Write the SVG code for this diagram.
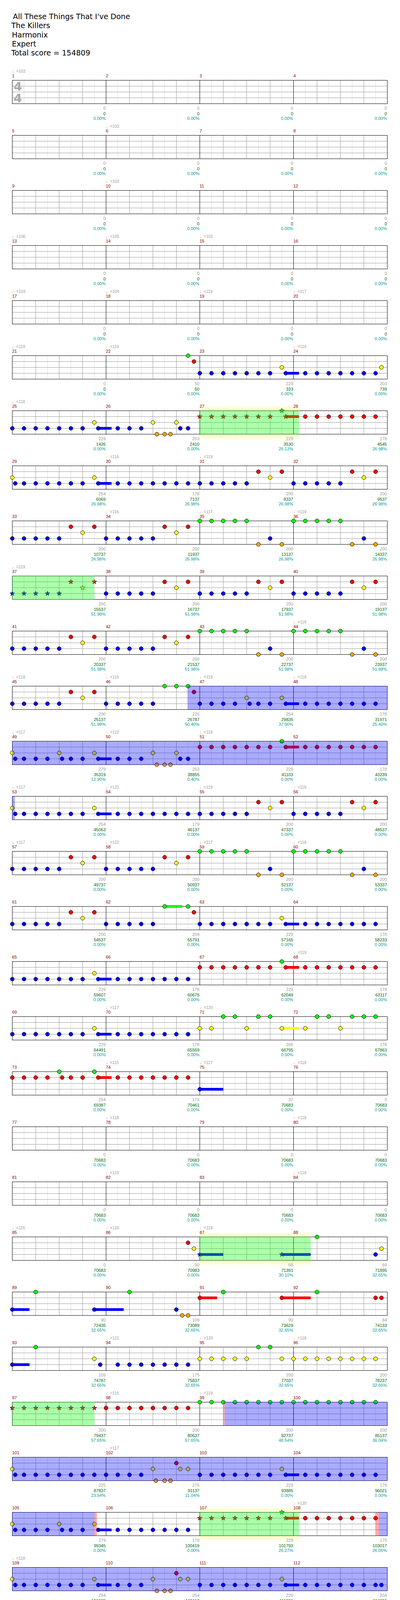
<svg xmlns="http://www.w3.org/2000/svg" xmlns:xlink="http://www.w3.org/1999/xlink" width="1024" height="5422" viewBox="0 0 1024 5422">
<style>
text{font-family:"Liberation Sans",Arial,sans-serif;font-size:11px}
.h{font-family:"DejaVu Sans",Verdana,sans-serif;font-size:19px;fill:#000}
.ts{font-family:"DejaVu Sans",sans-serif;font-weight:bold;font-size:31px;fill:#aaa}
.mn{fill:#8b0000}
.tp{fill:#999;font-size:10.5px}
.s1{fill:#999;text-anchor:end}
.s2{fill:#006400;text-anchor:end}
.s3{fill:#009b9b;text-anchor:end}
.G{fill:#0f0}.R{fill:#f00}.Y{fill:#ff0}.B{fill:#00f}.O{fill:#ffa500}
circle{stroke:#000;stroke-width:1}
.ga{fill:#0f0;fill-opacity:.33}
.ba{fill:#00f;fill-opacity:.33}
.ra{fill:#f00;fill-opacity:.33}
.yb{fill:#ffffd0}
</style>
<defs>
<path id="st" d="M0,-6.5L1.53,-2.1L6.18,-2.01L2.47,0.8L3.82,5.26L0,2.6L-3.82,5.26L-2.47,0.8L-6.18,-2.01L-1.53,-2.1Z" stroke="#000" stroke-width="0.8"/>
<g id="staff">
<rect x="31.5" y="0" width="960" height="60" fill="#fff"/>
<path d="M61.5 0V60M121.5 0V60M181.5 0V60M241.5 0V60M301.5 0V60M361.5 0V60M421.5 0V60M481.5 0V60M541.5 0V60M601.5 0V60M661.5 0V60M721.5 0V60M781.5 0V60M841.5 0V60M901.5 0V60M961.5 0V60" stroke="#ddd"/>
<path d="M91.5 0V60M151.5 0V60M211.5 0V60M331.5 0V60M391.5 0V60M451.5 0V60M571.5 0V60M631.5 0V60M691.5 0V60M811.5 0V60M871.5 0V60M931.5 0V60M31.5 15H991.5M31.5 30H991.5M31.5 45H991.5" stroke="#999"/>
<path d="M271.5 0V60M511.5 0V60M751.5 0V60" stroke="#000"/>
<rect x="31.5" y="0" width="960" height="60" fill="none" stroke="#000"/>
</g>
<g id="pA"><rect class="B" x="220" y="41.5" width="34" height="7"/><circle class="B" cx="0" cy="45" r="5"/><circle class="B" cx="30" cy="45" r="5"/><circle class="B" cx="60" cy="45" r="5"/><circle class="B" cx="90" cy="45" r="5"/><circle class="B" cx="120" cy="45" r="5"/><circle class="B" cx="150" cy="45" r="5"/><circle class="B" cx="180" cy="45" r="5"/><circle class="Y" cx="210" cy="30" r="5"/><circle class="B" cx="220" cy="45" r="5"/></g>
<g id="pA2"><rect class="B" x="220" y="41.5" width="34" height="7"/><circle class="Y" cx="0" cy="30" r="5"/><circle class="B" cx="7.5" cy="45" r="5"/><circle class="B" cx="30" cy="45" r="5"/><circle class="B" cx="60" cy="45" r="5"/><circle class="B" cx="90" cy="45" r="5"/><circle class="B" cx="120" cy="45" r="5"/><circle class="B" cx="150" cy="45" r="5"/><circle class="B" cx="180" cy="45" r="5"/><circle class="Y" cx="210" cy="30" r="5"/><circle class="B" cx="220" cy="45" r="5"/></g>
<g id="pA3"><rect class="B" x="220" y="41.5" width="34" height="7"/><circle class="Y" cx="0" cy="30" r="5"/><circle class="B" cx="7.5" cy="45" r="5"/><circle class="B" cx="30" cy="45" r="5"/><circle class="B" cx="60" cy="45" r="5"/><circle class="B" cx="90" cy="45" r="5"/><circle class="Y" cx="120" cy="30" r="5"/><circle class="B" cx="127.5" cy="45" r="5"/><circle class="B" cx="150" cy="45" r="5"/><circle class="B" cx="180" cy="45" r="5"/><circle class="Y" cx="210" cy="30" r="5"/><circle class="B" cx="220" cy="45" r="5"/></g>
<g id="pH"><rect class="B" x="220" y="41.5" width="34" height="7"/><circle class="B" cx="0" cy="45" r="5"/><circle class="B" cx="30" cy="45" r="5"/><circle class="B" cx="60" cy="45" r="5"/><circle class="B" cx="90" cy="45" r="5"/><circle class="Y" cx="120" cy="30" r="5"/><circle class="B" cx="127.5" cy="45" r="5"/><circle class="B" cx="150" cy="45" r="5"/><circle class="B" cx="180" cy="45" r="5"/><circle class="Y" cx="210" cy="30" r="5"/><circle class="B" cx="220" cy="45" r="5"/></g>
<g id="pB"><circle class="B" cx="30" cy="45" r="5"/><circle class="B" cx="60" cy="45" r="5"/><circle class="B" cx="90" cy="45" r="5"/><circle class="B" cx="120" cy="45" r="5"/><circle class="B" cx="150" cy="45" r="5"/><circle class="B" cx="180" cy="45" r="5"/><circle class="B" cx="210" cy="45" r="5"/></g>
<g id="pC"><circle class="B" cx="0" cy="45" r="5"/><circle class="B" cx="30" cy="45" r="5"/><circle class="B" cx="60" cy="45" r="5"/><circle class="B" cx="90" cy="45" r="5"/><circle class="B" cx="120" cy="45" r="5"/><circle class="R" cx="150" cy="15" r="5"/><circle class="Y" cx="180" cy="30" r="5"/><circle class="R" cx="210" cy="15" r="5"/></g>
<g id="pD"><circle class="G" cx="0" cy="0" r="5"/><circle class="G" cx="30" cy="0" r="5"/><circle class="G" cx="60" cy="0" r="5"/><circle class="G" cx="90" cy="0" r="5"/><circle class="G" cx="120" cy="0" r="5"/><circle class="O" cx="150" cy="60" r="5"/><circle class="B" cx="180" cy="45" r="5"/><circle class="O" cx="210" cy="60" r="5"/></g>
<g id="pE"><circle class="B" cx="30" cy="45" r="5"/><circle class="B" cx="60" cy="45" r="5"/><circle class="B" cx="90" cy="45" r="5"/><circle class="Y" cx="120" cy="30" r="5"/><circle class="O" cx="130" cy="60" r="5"/><circle class="O" cx="150" cy="60" r="5"/><circle class="O" cx="165" cy="60" r="5"/><circle class="Y" cx="180" cy="30" r="5"/><circle class="B" cx="190" cy="45" r="5"/><circle class="B" cx="210" cy="45" r="5"/></g>
<g id="pF"><rect class="R" x="220" y="11.5" width="34" height="7"/><circle class="R" cx="0" cy="15" r="5"/><circle class="R" cx="30" cy="15" r="5"/><circle class="R" cx="60" cy="15" r="5"/><circle class="R" cx="90" cy="15" r="5"/><circle class="R" cx="120" cy="15" r="5"/><circle class="R" cx="150" cy="15" r="5"/><circle class="R" cx="180" cy="15" r="5"/><circle class="G" cx="210" cy="0" r="5"/><circle class="R" cx="220" cy="15" r="5"/></g>
<g id="pG"><circle class="R" cx="30" cy="15" r="5"/><circle class="R" cx="60" cy="15" r="5"/><circle class="R" cx="90" cy="15" r="5"/><circle class="R" cx="120" cy="15" r="5"/><circle class="R" cx="150" cy="15" r="5"/><circle class="R" cx="180" cy="15" r="5"/><circle class="R" cx="210" cy="15" r="5"/></g>
<g id="pR8"><circle class="R" cx="0" cy="15" r="5"/><use href="#pG"/></g>
<g id="pY8"><circle class="Y" cx="0" cy="30" r="5"/><circle class="Y" cx="30" cy="30" r="5"/><circle class="Y" cx="60" cy="30" r="5"/><circle class="Y" cx="90" cy="30" r="5"/><circle class="Y" cx="120" cy="30" r="5"/><circle class="Y" cx="150" cy="30" r="5"/><circle class="Y" cx="180" cy="30" r="5"/><circle class="Y" cx="210" cy="30" r="5"/></g>
<g id="pG8"><circle class="G" cx="0" cy="0" r="5"/><circle class="G" cx="30" cy="0" r="5"/><circle class="G" cx="60" cy="0" r="5"/><circle class="G" cx="90" cy="0" r="5"/><circle class="G" cx="120" cy="0" r="5"/><circle class="G" cx="150" cy="0" r="5"/><circle class="G" cx="180" cy="0" r="5"/><circle class="G" cx="210" cy="0" r="5"/></g>
<g id="pM71"><rect class="Y" x="210" y="26.5" width="44" height="7"/><circle class="Y" cx="0" cy="30" r="5"/><circle class="Y" cx="30" cy="30" r="5"/><circle class="G" cx="60" cy="0" r="5"/><circle class="G" cx="90" cy="0" r="5"/><circle class="Y" cx="120" cy="30" r="5"/><circle class="G" cx="150" cy="0" r="5"/><circle class="G" cx="180" cy="0" r="5"/><circle class="Y" cx="210" cy="30" r="5"/></g>
<g id="pM72"><circle class="Y" cx="30" cy="30" r="5"/><circle class="G" cx="60" cy="0" r="5"/><circle class="G" cx="90" cy="0" r="5"/><circle class="Y" cx="120" cy="30" r="5"/><circle class="G" cx="150" cy="0" r="5"/><circle class="G" cx="180" cy="0" r="5"/><circle class="G" cx="210" cy="0" r="5"/></g>
<g id="pFs"><rect class="R" x="220" y="11.5" width="34" height="7"/><use href="#st" class="R" x="0" y="15"/><use href="#st" class="R" x="30" y="15"/><use href="#st" class="R" x="60" y="15"/><use href="#st" class="R" x="90" y="15"/><use href="#st" class="R" x="120" y="15"/><use href="#st" class="R" x="150" y="15"/><use href="#st" class="R" x="180" y="15"/><use href="#st" class="G" x="210" y="0"/><use href="#st" class="R" x="220" y="15"/></g>
</defs>

<g id="header">
<text class="h" x="33" y="49">All These Things That I've Done</text>
<text class="h" x="29" y="72">The Killers</text>
<text class="h" x="30.5" y="95.5">Harmonix</text>
<text class="h" x="30.5" y="118.5">Expert</text>
<text class="h" x="29" y="141.5">Total score = 154809</text>
</g>

<g id="r1" transform="translate(0,205.5)">
<use href="#staff"/>
<text class="ts" x="35" y="26.5">4</text><text class="ts" x="35" y="56.5">4</text>
<text class="tp" y="-20"><tspan x="31">♩=103</tspan></text>
<text class="mn" y="-8"><tspan x="31">1</tspan><tspan x="271">2</tspan><tspan x="511">3</tspan><tspan x="751">4</tspan></text>
<text class="s1" y="75.5"><tspan x="270.5">0</tspan><tspan x="510.5">0</tspan><tspan x="750.5">0</tspan><tspan x="990.5">0</tspan></text>
<text class="s2" y="89"><tspan x="270.5">0</tspan><tspan x="510.5">0</tspan><tspan x="750.5">0</tspan><tspan x="990.5">0</tspan></text>
<text class="s3" y="101.5"><tspan x="270.5">0.00%</tspan><tspan x="510.5">0.00%</tspan><tspan x="750.5">0.00%</tspan><tspan x="990.5">0.00%</tspan></text>
</g>

<g id="r2" transform="translate(0,346.5)">
<use href="#staff"/>
<text class="tp" y="-20"><tspan x="271">♩=103</tspan></text>
<text class="mn" y="-8"><tspan x="31">5</tspan><tspan x="271">6</tspan><tspan x="511">7</tspan><tspan x="751">8</tspan></text>
<text class="s1" y="75.5"><tspan x="270.5">0</tspan><tspan x="510.5">0</tspan><tspan x="750.5">0</tspan><tspan x="990.5">0</tspan></text>
<text class="s2" y="89"><tspan x="270.5">0</tspan><tspan x="510.5">0</tspan><tspan x="750.5">0</tspan><tspan x="990.5">0</tspan></text>
<text class="s3" y="101.5"><tspan x="270.5">0.00%</tspan><tspan x="510.5">0.00%</tspan><tspan x="750.5">0.00%</tspan><tspan x="990.5">0.00%</tspan></text>
</g>

<g id="r3" transform="translate(0,487.5)">
<use href="#staff"/>
<text class="tp" y="-20"><tspan x="271">♩=102</tspan></text>
<text class="mn" y="-8"><tspan x="31">9</tspan><tspan x="271">10</tspan><tspan x="511">11</tspan><tspan x="751">12</tspan></text>
<text class="s1" y="75.5"><tspan x="270.5">0</tspan><tspan x="510.5">0</tspan><tspan x="750.5">0</tspan><tspan x="990.5">0</tspan></text>
<text class="s2" y="89"><tspan x="270.5">0</tspan><tspan x="510.5">0</tspan><tspan x="750.5">0</tspan><tspan x="990.5">0</tspan></text>
<text class="s3" y="101.5"><tspan x="270.5">0.00%</tspan><tspan x="510.5">0.00%</tspan><tspan x="750.5">0.00%</tspan><tspan x="990.5">0.00%</tspan></text>
</g>

<g id="r4" transform="translate(0,628.5)">
<use href="#staff"/>
<text class="tp" y="-20"><tspan x="31">♩=106</tspan><tspan x="271">♩=105</tspan><tspan x="511">♩=102</tspan></text>
<text class="mn" y="-8"><tspan x="31">13</tspan><tspan x="271">14</tspan><tspan x="511">15</tspan><tspan x="751">16</tspan></text>
<text class="s1" y="75.5"><tspan x="270.5">0</tspan><tspan x="510.5">0</tspan><tspan x="750.5">0</tspan><tspan x="990.5">0</tspan></text>
<text class="s2" y="89"><tspan x="270.5">0</tspan><tspan x="510.5">0</tspan><tspan x="750.5">0</tspan><tspan x="990.5">0</tspan></text>
<text class="s3" y="101.5"><tspan x="270.5">0.00%</tspan><tspan x="510.5">0.00%</tspan><tspan x="750.5">0.00%</tspan><tspan x="990.5">0.00%</tspan></text>
</g>

<g id="r5" transform="translate(0,769.5)">
<use href="#staff"/>
<text class="tp" y="-20"><tspan x="31">♩=103</tspan><tspan x="271">♩=104</tspan><tspan x="511">♩=119</tspan><tspan x="751">♩=117</tspan></text>
<text class="mn" y="-8"><tspan x="31">17</tspan><tspan x="271">18</tspan><tspan x="511">19</tspan><tspan x="751">20</tspan></text>
<text class="s1" y="75.5"><tspan x="270.5">0</tspan><tspan x="510.5">0</tspan><tspan x="750.5">0</tspan><tspan x="990.5">0</tspan></text>
<text class="s2" y="89"><tspan x="270.5">0</tspan><tspan x="510.5">0</tspan><tspan x="750.5">0</tspan><tspan x="990.5">0</tspan></text>
<text class="s3" y="101.5"><tspan x="270.5">0.00%</tspan><tspan x="510.5">0.00%</tspan><tspan x="750.5">0.00%</tspan><tspan x="990.5">0.00%</tspan></text>
</g>

<g id="r6" transform="translate(0,910.5)">
<use href="#staff"/>
<circle class="G" cx="481.5" cy="0" r="5"/><circle class="R" cx="496.5" cy="15" r="5"/>
<use href="#pA" x="511.5"/>
<use href="#pB" x="751.5"/><circle class="Y" cx="976.5" cy="30" r="5"/>
<text class="tp" y="-20"><tspan x="31">♩=119</tspan><tspan x="271">♩=119</tspan><tspan x="751">♩=119</tspan></text>
<text class="mn" y="-8"><tspan x="31">21</tspan><tspan x="271">22</tspan><tspan x="511">23</tspan><tspan x="751">24</tspan></text>
<text class="s1" y="75.5"><tspan x="270.5">0</tspan><tspan x="510.5">50</tspan><tspan x="750.5">229</tspan><tspan x="990.5">203</tspan></text>
<text class="s2" y="89"><tspan x="270.5">0</tspan><tspan x="510.5">50</tspan><tspan x="750.5">333</tspan><tspan x="990.5">739</tspan></text>
<text class="s3" y="101.5"><tspan x="270.5">0.00%</tspan><tspan x="510.5">0.00%</tspan><tspan x="750.5">0.00%</tspan><tspan x="990.5">0.00%</tspan></text>
</g>

<g id="r7" transform="translate(0,1051.5)">
<rect class="yb" x="511.5" y="-10.5" width="254.5" height="81.5"/>
<use href="#staff"/>
<use href="#pA" x="31.5"/><use href="#pE" x="271.5"/><use href="#pFs" x="511.5"/><use href="#pG" x="751.5"/>
<rect class="ga" x="511.5" y="-0.5" width="254.5" height="61"/>
<text class="tp" y="-20"><tspan x="31">♩=118</tspan></text>
<text class="mn" y="-8"><tspan x="31">25</tspan><tspan x="271">26</tspan><tspan x="511">27</tspan><tspan x="751">28</tspan></text>
<text class="s1" y="75.5"><tspan x="270.5">229</tspan><tspan x="510.5">253</tspan><tspan x="750.5">229</tspan><tspan x="990.5">178</tspan></text>
<text class="s2" y="89"><tspan x="270.5">1426</tspan><tspan x="510.5">2410</tspan><tspan x="750.5">3530</tspan><tspan x="990.5">4545</tspan></text>
<text class="s3" y="101.5"><tspan x="270.5">0.00%</tspan><tspan x="510.5">0.00%</tspan><tspan x="750.5">26.13%</tspan><tspan x="990.5">26.98%</tspan></text>
</g>

<g id="r8" transform="translate(0,1192.5)">
<use href="#staff"/>
<use href="#pA2" x="31.5"/><use href="#pB" x="271.5"/><use href="#pC" x="511.5"/><use href="#pC" x="751.5"/>
<text class="tp" y="-20"><tspan x="271">♩=116</tspan><tspan x="511">♩=119</tspan></text>
<text class="mn" y="-8"><tspan x="31">29</tspan><tspan x="271">30</tspan><tspan x="511">31</tspan><tspan x="751">32</tspan></text>
<text class="s1" y="75.5"><tspan x="270.5">254</tspan><tspan x="510.5">178</tspan><tspan x="750.5">200</tspan><tspan x="990.5">200</tspan></text>
<text class="s2" y="89"><tspan x="270.5">6069</tspan><tspan x="510.5">7137</tspan><tspan x="750.5">8337</tspan><tspan x="990.5">9537</tspan></text>
<text class="s3" y="101.5"><tspan x="270.5">26.98%</tspan><tspan x="510.5">26.98%</tspan><tspan x="750.5">26.98%</tspan><tspan x="990.5">26.98%</tspan></text>
</g>

<g id="r9" transform="translate(0,1333.5)">
<use href="#staff"/>
<use href="#pC" x="31.5"/><use href="#pC" x="271.5"/><use href="#pD" x="511.5"/><use href="#pD" x="751.5"/>
<text class="tp" y="-20"><tspan x="271">♩=116</tspan><tspan x="511">♩=117</tspan><tspan x="751">♩=119</tspan></text>
<text class="mn" y="-8"><tspan x="31">33</tspan><tspan x="271">34</tspan><tspan x="511">35</tspan><tspan x="751">36</tspan></text>
<text class="s1" y="75.5"><tspan x="270.5">200</tspan><tspan x="510.5">200</tspan><tspan x="750.5">200</tspan><tspan x="990.5">200</tspan></text>
<text class="s2" y="89"><tspan x="270.5">10737</tspan><tspan x="510.5">11937</tspan><tspan x="750.5">13137</tspan><tspan x="990.5">14337</tspan></text>
<text class="s3" y="101.5"><tspan x="270.5">26.98%</tspan><tspan x="510.5">26.98%</tspan><tspan x="750.5">26.98%</tspan><tspan x="990.5">26.98%</tspan></text>
</g>

<g id="r10" transform="translate(0,1474.5)">
<use href="#staff"/>
<g transform="translate(31.5,0)"><use href="#st" class="B" x="0" y="45"/><use href="#st" class="B" x="30" y="45"/><use href="#st" class="B" x="60" y="45"/><use href="#st" class="B" x="90" y="45"/><use href="#st" class="B" x="120" y="45"/><use href="#st" class="R" x="150" y="15"/><use href="#st" class="Y" x="180" y="30"/><use href="#st" class="R" x="210" y="15"/></g>
<use href="#pC" x="271.5"/><use href="#pC" x="511.5"/><use href="#pC" x="751.5"/>
<rect class="ga" x="31.5" y="-0.5" width="210" height="61"/>
<text class="tp" y="-20"><tspan x="31">♩=119</tspan></text>
<text class="mn" y="-8"><tspan x="31">37</tspan><tspan x="271">38</tspan><tspan x="511">39</tspan><tspan x="751">40</tspan></text>
<text class="s1" y="75.5"><tspan x="270.5">200</tspan><tspan x="510.5">200</tspan><tspan x="750.5">200</tspan><tspan x="990.5">200</tspan></text>
<text class="s2" y="89"><tspan x="270.5">15537</tspan><tspan x="510.5">16737</tspan><tspan x="750.5">17937</tspan><tspan x="990.5">19137</tspan></text>
<text class="s3" y="101.5"><tspan x="270.5">51.98%</tspan><tspan x="510.5">51.98%</tspan><tspan x="750.5">51.98%</tspan><tspan x="990.5">51.98%</tspan></text>
</g>

<g id="r11" transform="translate(0,1615.5)">
<use href="#staff"/>
<use href="#pC" x="31.5"/><use href="#pC" x="271.5"/><use href="#pD" x="511.5"/><use href="#pD" x="751.5"/>
<text class="tp" y="-20"><tspan x="751">♩=116</tspan></text>
<text class="mn" y="-8"><tspan x="31">41</tspan><tspan x="271">42</tspan><tspan x="511">43</tspan><tspan x="751">44</tspan></text>
<text class="s1" y="75.5"><tspan x="270.5">200</tspan><tspan x="510.5">200</tspan><tspan x="750.5">200</tspan><tspan x="990.5">200</tspan></text>
<text class="s2" y="89"><tspan x="270.5">20337</tspan><tspan x="510.5">21537</tspan><tspan x="750.5">22737</tspan><tspan x="990.5">23937</tspan></text>
<text class="s3" y="101.5"><tspan x="270.5">51.98%</tspan><tspan x="510.5">51.98%</tspan><tspan x="750.5">51.98%</tspan><tspan x="990.5">51.98%</tspan></text>
</g>

<g id="r12" transform="translate(0,1756.5)">
<use href="#staff"/>
<use href="#pC" x="31.5"/>
<circle class="B" cx="271.5" cy="45" r="5"/><circle class="B" cx="301.5" cy="45" r="5"/><circle class="B" cx="331.5" cy="45" r="5"/><circle class="B" cx="361.5" cy="45" r="5"/><circle class="B" cx="391.5" cy="45" r="5"/><circle class="G" cx="421.5" cy="0" r="5"/><circle class="G" cx="451.5" cy="0" r="5"/><circle class="G" cx="481.5" cy="0" r="5"/><circle class="R" cx="496.5" cy="15" r="5"/>
<use href="#pH" x="511.5"/><use href="#pB" x="751.5"/>
<rect class="ba" x="480" y="-0.5" width="511.5" height="61"/>
<text class="tp" y="-20"><tspan x="31">♩=119</tspan><tspan x="271">♩=115</tspan><tspan x="511">♩=119</tspan><tspan x="751">♩=118</tspan></text>
<text class="mn" y="-8"><tspan x="31">45</tspan><tspan x="271">46</tspan><tspan x="511">47</tspan><tspan x="751">48</tspan></text>
<text class="s1" y="75.5"><tspan x="270.5">200</tspan><tspan x="510.5">225</tspan><tspan x="750.5">254</tspan><tspan x="990.5">178</tspan></text>
<text class="s2" y="89"><tspan x="270.5">25137</tspan><tspan x="510.5">26787</tspan><tspan x="750.5">29835</tspan><tspan x="990.5">31971</tspan></text>
<text class="s3" y="101.5"><tspan x="270.5">51.98%</tspan><tspan x="510.5">50.40%</tspan><tspan x="750.5">37.90%</tspan><tspan x="990.5">25.40%</tspan></text>
</g>

<g id="r13" transform="translate(0,1897.5)">
<use href="#staff"/>
<use href="#pA3" x="31.5"/><use href="#pE" x="271.5"/><use href="#pF" x="511.5"/><use href="#pG" x="751.5"/>
<rect class="ba" x="31.5" y="-0.5" width="960" height="61"/>
<text class="tp" y="-20"><tspan x="31">♩=117</tspan><tspan x="271">♩=122</tspan><tspan x="511">♩=118</tspan></text>
<text class="mn" y="-8"><tspan x="31">49</tspan><tspan x="271">50</tspan><tspan x="511">51</tspan><tspan x="751">52</tspan></text>
<text class="s1" y="75.5"><tspan x="270.5">279</tspan><tspan x="510.5">253</tspan><tspan x="750.5">229</tspan><tspan x="990.5">178</tspan></text>
<text class="s2" y="89"><tspan x="270.5">35319</tspan><tspan x="510.5">38855</tspan><tspan x="750.5">41103</tspan><tspan x="990.5">43239</tspan></text>
<text class="s3" y="101.5"><tspan x="270.5">12.90%</tspan><tspan x="510.5">0.40%</tspan><tspan x="750.5">0.00%</tspan><tspan x="990.5">0.00%</tspan></text>
</g>

<g id="r14" transform="translate(0,2038.5)">
<use href="#staff"/>
<use href="#pA2" x="31.5"/><use href="#pB" x="271.5"/><use href="#pC" x="511.5"/><use href="#pC" x="751.5"/>
<rect class="ba" x="31.5" y="-0.5" width="6.5" height="61"/>
<text class="tp" y="-20"><tspan x="31">♩=117</tspan><tspan x="271">♩=121</tspan><tspan x="511">♩=119</tspan><tspan x="751">♩=115</tspan></text>
<text class="mn" y="-8"><tspan x="31">53</tspan><tspan x="271">54</tspan><tspan x="511">55</tspan><tspan x="751">56</tspan></text>
<text class="s1" y="75.5"><tspan x="270.5">254</tspan><tspan x="510.5">179</tspan><tspan x="750.5">200</tspan><tspan x="990.5">200</tspan></text>
<text class="s2" y="89"><tspan x="270.5">45063</tspan><tspan x="510.5">46137</tspan><tspan x="750.5">47337</tspan><tspan x="990.5">48537</tspan></text>
<text class="s3" y="101.5"><tspan x="270.5">0.00%</tspan><tspan x="510.5">0.00%</tspan><tspan x="750.5">0.00%</tspan><tspan x="990.5">0.00%</tspan></text>
</g>

<g id="r15" transform="translate(0,2179.5)">
<use href="#staff"/>
<use href="#pC" x="31.5"/><use href="#pC" x="271.5"/><use href="#pD" x="511.5"/><use href="#pD" x="751.5"/>
<text class="tp" y="-20"><tspan x="31">♩=117</tspan><tspan x="271">♩=122</tspan><tspan x="511">♩=117</tspan><tspan x="751">♩=118</tspan></text>
<text class="mn" y="-8"><tspan x="31">57</tspan><tspan x="271">58</tspan><tspan x="511">59</tspan><tspan x="751">60</tspan></text>
<text class="s1" y="75.5"><tspan x="270.5">200</tspan><tspan x="510.5">200</tspan><tspan x="750.5">200</tspan><tspan x="990.5">200</tspan></text>
<text class="s2" y="89"><tspan x="270.5">49737</tspan><tspan x="510.5">50937</tspan><tspan x="750.5">52137</tspan><tspan x="990.5">53337</tspan></text>
<text class="s3" y="101.5"><tspan x="270.5">0.00%</tspan><tspan x="510.5">0.00%</tspan><tspan x="750.5">0.00%</tspan><tspan x="990.5">0.00%</tspan></text>
</g>

<g id="r16" transform="translate(0,2320.5)">
<use href="#staff"/>
<use href="#pC" x="31.5"/>
<rect class="G" x="421.5" y="-3.5" width="45" height="7"/>
<circle class="B" cx="271.5" cy="45" r="5"/><circle class="B" cx="301.5" cy="45" r="5"/><circle class="B" cx="331.5" cy="45" r="5"/><circle class="B" cx="361.5" cy="45" r="5"/><circle class="B" cx="391.5" cy="45" r="5"/><circle class="G" cx="421.5" cy="0" r="5"/><circle class="G" cx="481.5" cy="0" r="5"/><circle class="R" cx="496.5" cy="15" r="5"/>
<use href="#pA" x="511.5"/><use href="#pB" x="751.5"/>
<text class="mn" y="-8"><tspan x="31">61</tspan><tspan x="271">62</tspan><tspan x="511">63</tspan><tspan x="751">64</tspan></text>
<text class="s1" y="75.5"><tspan x="270.5">200</tspan><tspan x="510.5">209</tspan><tspan x="750.5">229</tspan><tspan x="990.5">178</tspan></text>
<text class="s2" y="89"><tspan x="270.5">54537</tspan><tspan x="510.5">55791</tspan><tspan x="750.5">57165</tspan><tspan x="990.5">58233</tspan></text>
<text class="s3" y="101.5"><tspan x="270.5">0.00%</tspan><tspan x="510.5">0.00%</tspan><tspan x="750.5">0.00%</tspan><tspan x="990.5">0.00%</tspan></text>
</g>

<g id="r17" transform="translate(0,2461.5)">
<use href="#staff"/>
<use href="#pA" x="31.5"/><use href="#pB" x="271.5"/><use href="#pF" x="511.5"/><use href="#pG" x="751.5"/>
<text class="tp" y="-20"><tspan x="751">♩=119</tspan></text>
<text class="mn" y="-8"><tspan x="31">65</tspan><tspan x="271">66</tspan><tspan x="511">67</tspan><tspan x="751">68</tspan></text>
<text class="s1" y="75.5"><tspan x="270.5">229</tspan><tspan x="510.5">178</tspan><tspan x="750.5">229</tspan><tspan x="990.5">178</tspan></text>
<text class="s2" y="89"><tspan x="270.5">59607</tspan><tspan x="510.5">60675</tspan><tspan x="750.5">62049</tspan><tspan x="990.5">63117</tspan></text>
<text class="s3" y="101.5"><tspan x="270.5">0.00%</tspan><tspan x="510.5">0.00%</tspan><tspan x="750.5">0.00%</tspan><tspan x="990.5">0.00%</tspan></text>
</g>

<g id="r18" transform="translate(0,2602.5)">
<use href="#staff"/>
<use href="#pA" x="31.5"/><use href="#pB" x="271.5"/><use href="#pM71" x="511.5"/><use href="#pM72" x="751.5"/>
<text class="tp" y="-20"><tspan x="271">♩=117</tspan><tspan x="511">♩=120</tspan></text>
<text class="mn" y="-8"><tspan x="31">69</tspan><tspan x="271">70</tspan><tspan x="511">71</tspan><tspan x="751">72</tspan></text>
<text class="s1" y="75.5"><tspan x="270.5">229</tspan><tspan x="510.5">178</tspan><tspan x="750.5">206</tspan><tspan x="990.5">178</tspan></text>
<text class="s2" y="89"><tspan x="270.5">64491</tspan><tspan x="510.5">65559</tspan><tspan x="750.5">66795</tspan><tspan x="990.5">67863</tspan></text>
<text class="s3" y="101.5"><tspan x="270.5">0.00%</tspan><tspan x="510.5">0.00%</tspan><tspan x="750.5">0.00%</tspan><tspan x="990.5">0.00%</tspan></text>
</g>

<g id="r19" transform="translate(0,2743.5)">
<use href="#staff"/>
<rect class="R" x="251.5" y="11.5" width="34" height="7"/>
<circle class="R" cx="31.5" cy="15" r="5"/><circle class="R" cx="61.5" cy="15" r="5"/><circle class="R" cx="91.5" cy="15" r="5"/><circle class="R" cx="121.5" cy="15" r="5"/><circle class="G" cx="151.5" cy="0" r="5"/><circle class="R" cx="159" cy="15" r="5"/><circle class="R" cx="181.5" cy="15" r="5"/><circle class="R" cx="211.5" cy="15" r="5"/><circle class="G" cx="241.5" cy="0" r="5"/><circle class="R" cx="251.5" cy="15" r="5"/>
<use href="#pG" x="271.5"/>
<rect class="B" x="511.5" y="41.5" width="60" height="7"/><circle class="B" cx="511.5" cy="45" r="5"/>
<text class="tp" y="-20"><tspan x="271">♩=115</tspan><tspan x="511">♩=117</tspan><tspan x="751">♩=118</tspan></text>
<text class="mn" y="-8"><tspan x="31">73</tspan><tspan x="271">74</tspan><tspan x="511">75</tspan><tspan x="751">76</tspan></text>
<text class="s1" y="75.5"><tspan x="270.5">254</tspan><tspan x="510.5">179</tspan><tspan x="750.5">37</tspan><tspan x="990.5">0</tspan></text>
<text class="s2" y="89"><tspan x="270.5">69387</tspan><tspan x="510.5">70461</tspan><tspan x="750.5">70683</tspan><tspan x="990.5">70683</tspan></text>
<text class="s3" y="101.5"><tspan x="270.5">0.00%</tspan><tspan x="510.5">0.00%</tspan><tspan x="750.5">0.00%</tspan><tspan x="990.5">0.00%</tspan></text>
</g>

<g id="r20" transform="translate(0,2884.5)">
<use href="#staff"/>
<text class="tp" y="-20"><tspan x="271">♩=118</tspan><tspan x="751">♩=118</tspan></text>
<text class="mn" y="-8"><tspan x="31">77</tspan><tspan x="271">78</tspan><tspan x="511">79</tspan><tspan x="751">80</tspan></text>
<text class="s1" y="75.5"><tspan x="270.5">0</tspan><tspan x="510.5">0</tspan><tspan x="750.5">0</tspan><tspan x="990.5">0</tspan></text>
<text class="s2" y="89"><tspan x="270.5">70683</tspan><tspan x="510.5">70683</tspan><tspan x="750.5">70683</tspan><tspan x="990.5">70683</tspan></text>
<text class="s3" y="101.5"><tspan x="270.5">0.00%</tspan><tspan x="510.5">0.00%</tspan><tspan x="750.5">0.00%</tspan><tspan x="990.5">0.00%</tspan></text>
</g>

<g id="r21" transform="translate(0,3025.5)">
<use href="#staff"/>
<text class="tp" y="-20"><tspan x="271">♩=119</tspan><tspan x="751">♩=119</tspan></text>
<text class="mn" y="-8"><tspan x="31">81</tspan><tspan x="271">82</tspan><tspan x="511">83</tspan><tspan x="751">84</tspan></text>
<text class="s1" y="75.5"><tspan x="270.5">0</tspan><tspan x="510.5">0</tspan><tspan x="750.5">0</tspan><tspan x="990.5">0</tspan></text>
<text class="s2" y="89"><tspan x="270.5">70683</tspan><tspan x="510.5">70683</tspan><tspan x="750.5">70683</tspan><tspan x="990.5">70683</tspan></text>
<text class="s3" y="101.5"><tspan x="270.5">0.00%</tspan><tspan x="510.5">0.00%</tspan><tspan x="750.5">0.00%</tspan><tspan x="990.5">0.00%</tspan></text>
</g>

<g id="r22" transform="translate(0,3166.5)">
<rect class="yb" x="511.5" y="-10.5" width="284" height="81.5"/>
<use href="#staff"/>
<circle class="R" cx="481.5" cy="15" r="5"/><circle class="Y" cx="496.5" cy="30" r="5"/>
<rect class="B" x="511.5" y="41.5" width="60" height="7"/><rect class="B" x="721.5" y="41.5" width="74" height="7"/>
<use href="#st" class="B" x="511.5" y="45"/><use href="#st" class="B" x="721.5" y="45"/>
<rect class="ga" x="511.5" y="-0.5" width="284" height="61"/>
<circle class="G" cx="811.5" cy="0" r="5"/><circle class="B" cx="961.5" cy="45" r="5"/><circle class="Y" cx="976.5" cy="30" r="5"/>
<text class="tp" y="-20"><tspan x="31">♩=116</tspan><tspan x="271">♩=120</tspan><tspan x="511">♩=118</tspan></text>
<text class="mn" y="-8"><tspan x="31">85</tspan><tspan x="271">86</tspan><tspan x="511">87</tspan><tspan x="751">88</tspan></text>
<text class="s1" y="75.5"><tspan x="270.5">0</tspan><tspan x="510.5">50</tspan><tspan x="750.5">68</tspan><tspan x="990.5">84</tspan></text>
<text class="s2" y="89"><tspan x="270.5">70683</tspan><tspan x="510.5">70983</tspan><tspan x="750.5">71391</tspan><tspan x="990.5">71895</tspan></text>
<text class="s3" y="101.5"><tspan x="270.5">0.00%</tspan><tspan x="510.5">0.00%</tspan><tspan x="750.5">30.10%</tspan><tspan x="990.5">32.65%</tspan></text>
</g>

<g id="r23" transform="translate(0,3307.5)">
<use href="#staff"/>
<rect class="B" x="31.5" y="41.5" width="44" height="7"/><rect class="B" x="241.5" y="41.5" width="75" height="7"/>
<rect class="R" x="511.5" y="11.5" width="44" height="7"/><rect class="R" x="721.5" y="11.5" width="74" height="7"/>
<circle class="B" cx="31.5" cy="45" r="5"/><circle class="G" cx="91.5" cy="0" r="5"/><circle class="B" cx="241.5" cy="45" r="5"/>
<circle class="G" cx="331.5" cy="0" r="5"/><circle class="B" cx="451.5" cy="45" r="5"/><circle class="O" cx="466.5" cy="60" r="5"/><circle class="O" cx="481.5" cy="60" r="5"/>
<circle class="R" cx="511.5" cy="15" r="5"/><circle class="G" cx="571.5" cy="0" r="5"/><circle class="R" cx="721.5" cy="15" r="5"/>
<circle class="G" cx="811.5" cy="0" r="5"/><circle class="R" cx="961.5" cy="15" r="5"/><circle class="R" cx="976.5" cy="15" r="5"/>
<text class="mn" y="-8"><tspan x="31">89</tspan><tspan x="271">90</tspan><tspan x="511">91</tspan><tspan x="751">92</tspan></text>
<text class="s1" y="75.5"><tspan x="270.5">90</tspan><tspan x="510.5">109</tspan><tspan x="750.5">90</tspan><tspan x="990.5">84</tspan></text>
<text class="s2" y="89"><tspan x="270.5">72435</tspan><tspan x="510.5">73089</tspan><tspan x="750.5">73629</tspan><tspan x="990.5">74133</tspan></text>
<text class="s3" y="101.5"><tspan x="270.5">32.65%</tspan><tspan x="510.5">32.65%</tspan><tspan x="750.5">32.65%</tspan><tspan x="990.5">32.65%</tspan></text>
</g>

<g id="r24" transform="translate(0,3448.5)">
<use href="#staff"/>
<rect class="B" x="31.5" y="41.5" width="44" height="7"/>
<circle class="B" cx="31.5" cy="45" r="5"/><circle class="G" cx="91.5" cy="0" r="5"/><circle class="Y" cx="241.5" cy="30" r="5"/><circle class="B" cx="256.5" cy="45" r="5"/>
<use href="#pB" x="271.5"/>
<circle class="Y" cx="511.5" cy="30" r="5"/><circle class="Y" cx="541.5" cy="30" r="5"/><circle class="Y" cx="571.5" cy="30" r="5"/><circle class="Y" cx="601.5" cy="30" r="5"/><circle class="Y" cx="631.5" cy="30" r="5"/><circle class="G" cx="661.5" cy="0" r="5"/><circle class="G" cx="691.5" cy="0" r="5"/><circle class="Y" cx="721.5" cy="30" r="5"/>
<use href="#pY8" x="751.5"/>
<text class="tp" y="-20"><tspan x="271">♩=121</tspan><tspan x="511">♩=120</tspan><tspan x="751">♩=118</tspan></text>
<text class="mn" y="-8"><tspan x="31">93</tspan><tspan x="271">94</tspan><tspan x="511">95</tspan><tspan x="751">96</tspan></text>
<text class="s1" y="75.5"><tspan x="270.5">109</tspan><tspan x="510.5">175</tspan><tspan x="750.5">200</tspan><tspan x="990.5">200</tspan></text>
<text class="s2" y="89"><tspan x="270.5">74787</tspan><tspan x="510.5">75837</tspan><tspan x="750.5">77037</tspan><tspan x="990.5">78237</tspan></text>
<text class="s3" y="101.5"><tspan x="270.5">32.65%</tspan><tspan x="510.5">32.65%</tspan><tspan x="750.5">32.65%</tspan><tspan x="990.5">32.65%</tspan></text>
</g>

<g id="r25" transform="translate(0,3589.5)">
<use href="#staff"/>
<g transform="translate(31.5,0)"><use href="#st" class="R" x="0" y="15"/><use href="#st" class="R" x="30" y="15"/><use href="#st" class="R" x="60" y="15"/><use href="#st" class="R" x="90" y="15"/><use href="#st" class="R" x="120" y="15"/><use href="#st" class="R" x="150" y="15"/><use href="#st" class="R" x="180" y="15"/><use href="#st" class="R" x="210" y="15"/></g>
<use href="#pR8" x="271.5"/><use href="#pG8" x="511.5"/><use href="#pG8" x="751.5"/>
<rect class="ga" x="31.5" y="-0.5" width="210" height="61"/>
<rect class="ra" x="571.5" y="-0.5" width="3.5" height="61"/>
<rect class="ba" x="575" y="-0.5" width="416.5" height="61"/>
<text class="tp" y="-20"><tspan x="271">♩=116</tspan><tspan x="511">♩=119</tspan></text>
<text class="mn" y="-8"><tspan x="31">97</tspan><tspan x="271">98</tspan><tspan x="511">99</tspan><tspan x="751">100</tspan></text>
<text class="s1" y="75.5"><tspan x="270.5">200</tspan><tspan x="510.5">200</tspan><tspan x="750.5">200</tspan><tspan x="990.5">200</tspan></text>
<text class="s2" y="89"><tspan x="270.5">79437</tspan><tspan x="510.5">80637</tspan><tspan x="750.5">82737</tspan><tspan x="990.5">85137</tspan></text>
<text class="s3" y="101.5"><tspan x="270.5">57.65%</tspan><tspan x="510.5">57.65%</tspan><tspan x="750.5">48.54%</tspan><tspan x="990.5">36.04%</tspan></text>
</g>

<g id="r26" transform="translate(0,3730.5)">
<use href="#staff"/>
<circle class="Y" cx="31.5" cy="30" r="5"/><circle class="B" cx="39" cy="45" r="5"/><use href="#pB" x="31.5"/>
<circle class="B" cx="271.5" cy="45" r="5"/><circle class="B" cx="301.5" cy="45" r="5"/><circle class="B" cx="331.5" cy="45" r="5"/><circle class="B" cx="361.5" cy="45" r="5"/><circle class="Y" cx="391.5" cy="30" r="5"/><circle class="O" cx="399" cy="60" r="5"/><circle class="O" cx="421.5" cy="60" r="5"/><circle class="O" cx="436.5" cy="60" r="5"/><circle class="R" cx="451.5" cy="15" r="5"/><circle class="Y" cx="461.5" cy="30" r="5"/><circle class="Y" cx="481.5" cy="30" r="5"/>
<use href="#pA" x="511.5"/><use href="#pB" x="751.5"/>
<rect class="ba" x="31.5" y="-0.5" width="960" height="61"/>
<text class="tp" y="-20"><tspan x="271">♩=117</tspan></text>
<text class="mn" y="-8"><tspan x="31">101</tspan><tspan x="271">102</tspan><tspan x="511">103</tspan><tspan x="751">104</tspan></text>
<text class="s1" y="75.5"><tspan x="270.5">225</tspan><tspan x="510.5">275</tspan><tspan x="750.5">229</tspan><tspan x="990.5">178</tspan></text>
<text class="s2" y="89"><tspan x="270.5">87837</tspan><tspan x="510.5">91137</tspan><tspan x="750.5">93885</tspan><tspan x="990.5">96021</tspan></text>
<text class="s3" y="101.5"><tspan x="270.5">23.54%</tspan><tspan x="510.5">11.04%</tspan><tspan x="750.5">0.00%</tspan><tspan x="990.5">0.00%</tspan></text>
</g>

<g id="r27" transform="translate(0,3871.5)">
<rect class="yb" x="511.5" y="-10.5" width="254.5" height="81.5"/>
<use href="#staff"/>
<use href="#pA3" x="31.5"/><use href="#pB" x="271.5"/><use href="#pFs" x="511.5"/><use href="#pG" x="751.5"/>
<rect class="ba" x="31.5" y="-0.5" width="210" height="61"/>
<rect class="ra" x="241.5" y="-0.5" width="6.5" height="61"/>
<rect class="ga" x="511.5" y="-0.5" width="254.5" height="61"/>
<rect class="ra" x="961" y="-0.5" width="9" height="61"/>
<rect class="ba" x="970" y="-0.5" width="21.5" height="61"/>
<text class="tp" y="-20"><tspan x="751">♩=120</tspan></text>
<text class="mn" y="-8"><tspan x="31">105</tspan><tspan x="271">106</tspan><tspan x="511">107</tspan><tspan x="751">108</tspan></text>
<text class="s1" y="75.5"><tspan x="270.5">279</tspan><tspan x="510.5">179</tspan><tspan x="750.5">229</tspan><tspan x="990.5">179</tspan></text>
<text class="s2" y="89"><tspan x="270.5">99345</tspan><tspan x="510.5">100419</tspan><tspan x="750.5">101793</tspan><tspan x="990.5">103017</tspan></text>
<text class="s3" y="101.5"><tspan x="270.5">0.00%</tspan><tspan x="510.5">0.00%</tspan><tspan x="750.5">26.27%</tspan><tspan x="990.5">26.05%</tspan></text>
</g>

<g id="r28" transform="translate(0,4012.5)">
<use href="#staff"/>
<use href="#pA2" x="31.5"/>
<circle class="B" cx="301.5" cy="45" r="5"/><circle class="B" cx="331.5" cy="45" r="5"/><circle class="B" cx="361.5" cy="45" r="5"/><circle class="Y" cx="391.5" cy="30" r="5"/><circle class="O" cx="401.5" cy="60" r="5"/><circle class="O" cx="421.5" cy="60" r="5"/><circle class="O" cx="436.5" cy="60" r="5"/><circle class="R" cx="451.5" cy="15" r="5"/><circle class="Y" cx="461.5" cy="30" r="5"/><circle class="Y" cx="481.5" cy="30" r="5"/>
<use href="#pA" x="511.5"/><use href="#pB" x="751.5"/><circle class="B" cx="976.5" cy="45" r="5"/>
<rect class="ba" x="31.5" y="-0.5" width="960" height="61"/>
<text class="tp" y="-20"><tspan x="31">♩=118</tspan></text>
<text class="mn" y="-8"><tspan x="31">109</tspan><tspan x="271">110</tspan><tspan x="511">111</tspan><tspan x="751">112</tspan></text>
<text class="s1" y="75.5"><tspan x="270.5">254</tspan><tspan x="510.5">254</tspan><tspan x="750.5">229</tspan><tspan x="990.5">204</tspan></text>
<text class="s2" y="89"><tspan x="270.5">106065</tspan><tspan x="510.5">109113</tspan><tspan x="750.5">111861</tspan><tspan x="990.5">114309</tspan></text>
<text class="s3" y="101.5"><tspan x="270.5">13.55%</tspan><tspan x="510.5">1.05%</tspan><tspan x="750.5">0.00%</tspan><tspan x="990.5">0.00%</tspan></text>
</g>

<g id="r29" transform="translate(0,4153.5)">
<use href="#staff"/>
<use href="#pA2" x="31.5"/>
<circle class="B" cx="301.5" cy="45" r="5"/><circle class="B" cx="331.5" cy="45" r="5"/><circle class="B" cx="361.5" cy="45" r="5"/><circle class="B" cx="391.5" cy="45" r="5"/><circle class="B" cx="421.5" cy="45" r="5"/><circle class="B" cx="451.5" cy="45" r="5"/><circle class="R" cx="481.5" cy="15" r="5"/><circle class="R" cx="496.5" cy="15" r="5"/>
<rect class="R" x="721.5" y="11.5" width="44" height="7"/>
<circle class="R" cx="511.5" cy="15" r="5"/><circle class="R" cx="541.5" cy="15" r="5"/><circle class="R" cx="571.5" cy="15" r="5"/><circle class="R" cx="601.5" cy="15" r="5"/><circle class="R" cx="631.5" cy="15" r="5"/><circle class="R" cx="661.5" cy="15" r="5"/><circle class="R" cx="691.5" cy="15" r="5"/><circle class="R" cx="721.5" cy="15" r="5"/>
<use href="#pG" x="751.5"/>
<rect class="ba" x="31.5" y="-0.5" width="19.5" height="61"/>
<rect class="ra" x="51" y="-0.5" width="10.5" height="61"/>
<text class="tp" y="-20"><tspan x="271">♩=120</tspan><tspan x="751">♩=117</tspan></text>
<text class="mn" y="-8"><tspan x="31">113</tspan><tspan x="271">114</tspan><tspan x="511">115</tspan><tspan x="751">116</tspan></text>
<text class="s1" y="75.5"><tspan x="270.5">254</tspan><tspan x="510.5">204</tspan><tspan x="750.5">206</tspan><tspan x="990.5">178</tspan></text>
<text class="s2" y="89"><tspan x="270.5">116283</tspan><tspan x="510.5">117507</tspan><tspan x="750.5">118743</tspan><tspan x="990.5">119811</tspan></text>
<text class="s3" y="101.5"><tspan x="270.5">0.00%</tspan><tspan x="510.5">0.00%</tspan><tspan x="750.5">0.00%</tspan><tspan x="990.5">0.00%</tspan></text>
</g>

<g id="r30" transform="translate(0,4294.5)">
<use href="#staff"/>
<g transform="translate(31.5,0)"><rect class="B" x="220" y="41.5" width="34" height="7"/><use href="#st" class="Y" x="0" y="30"/><use href="#st" class="B" x="7.5" y="45"/><use href="#st" class="B" x="30" y="45"/><use href="#st" class="B" x="60" y="45"/><use href="#st" class="B" x="90" y="45"/><use href="#st" class="B" x="120" y="45"/><use href="#st" class="B" x="150" y="45"/><use href="#st" class="B" x="180" y="45"/><use href="#st" class="Y" x="210" y="30"/><use href="#st" class="B" x="220" y="45"/></g>
<use href="#pB" x="271.5"/><use href="#pM71" x="511.5"/><use href="#pM72" x="751.5"/>
<rect class="ga" x="31.5" y="-0.5" width="254.5" height="61"/>
<text class="tp" y="-20"><tspan x="271">♩=122</tspan><tspan x="511">♩=120</tspan><tspan x="751">♩=117</tspan></text>
<text class="mn" y="-8"><tspan x="31">117</tspan><tspan x="271">118</tspan><tspan x="511">119</tspan><tspan x="751">120</tspan></text>
<text class="s1" y="75.5"><tspan x="270.5">254</tspan><tspan x="510.5">179</tspan><tspan x="750.5">206</tspan><tspan x="990.5">178</tspan></text>
<text class="s2" y="89"><tspan x="270.5">121335</tspan><tspan x="510.5">122409</tspan><tspan x="750.5">123645</tspan><tspan x="990.5">124713</tspan></text>
<text class="s3" y="101.5"><tspan x="270.5">26.27%</tspan><tspan x="510.5">27.12%</tspan><tspan x="750.5">27.12%</tspan><tspan x="990.5">27.12%</tspan></text>
</g>

<g id="r31" transform="translate(0,4435.5)">
<use href="#staff"/>
<use href="#pR8" x="31.5"/><use href="#pR8" x="271.5"/><use href="#pY8" x="511.5"/><use href="#pY8" x="751.5"/>
<text class="tp" y="-20"><tspan x="271">♩=119</tspan><tspan x="511">♩=119</tspan><tspan x="751">♩=117</tspan></text>
<text class="mn" y="-8"><tspan x="31">121</tspan><tspan x="271">122</tspan><tspan x="511">123</tspan><tspan x="751">124</tspan></text>
<text class="s1" y="75.5"><tspan x="270.5">200</tspan><tspan x="510.5">200</tspan><tspan x="750.5">200</tspan><tspan x="990.5">200</tspan></text>
<text class="s2" y="89"><tspan x="270.5">125913</tspan><tspan x="510.5">127113</tspan><tspan x="750.5">128313</tspan><tspan x="990.5">129513</tspan></text>
<text class="s3" y="101.5"><tspan x="270.5">27.12%</tspan><tspan x="510.5">27.12%</tspan><tspan x="750.5">27.12%</tspan><tspan x="990.5">27.12%</tspan></text>
</g>

<g id="r32" transform="translate(0,4576.5)">
<use href="#staff"/>
<rect class="B" x="31.5" y="41.5" width="405" height="7"/><circle class="B" cx="31.5" cy="45" r="5"/>
<circle class="R" cx="451.5" cy="15" r="5"/><circle class="Y" cx="481.5" cy="30" r="5"/>
<g transform="translate(511.5,0)"><rect class="B" x="210" y="41.5" width="44" height="7"/><use href="#st" class="B" x="0" y="45"/><use href="#st" class="B" x="30" y="45"/><use href="#st" class="B" x="60" y="45"/><use href="#st" class="B" x="90" y="45"/><use href="#st" class="B" x="120" y="45"/><use href="#st" class="B" x="150" y="45"/><use href="#st" class="B" x="180" y="45"/><use href="#st" class="B" x="210" y="45"/></g>
<use href="#pB" x="751.5"/>
<rect class="ga" x="511.5" y="-0.5" width="254" height="61"/>
<text class="mn" y="-8"><tspan x="31">125</tspan><tspan x="271">126</tspan><tspan x="511">127</tspan><tspan x="751">128</tspan></text>
<text class="s1" y="75.5"><tspan x="270.5">73</tspan><tspan x="510.5">83</tspan><tspan x="750.5">206</tspan><tspan x="990.5">178</tspan></text>
<text class="s2" y="89"><tspan x="270.5">129951</tspan><tspan x="510.5">130449</tspan><tspan x="750.5">131685</tspan><tspan x="990.5">132753</tspan></text>
<text class="s3" y="101.5"><tspan x="270.5">27.12%</tspan><tspan x="510.5">27.12%</tspan><tspan x="750.5">53.82%</tspan><tspan x="990.5">54.67%</tspan></text>
</g>

<g id="r33" transform="translate(0,4717.5)">
<use href="#staff"/>
<rect class="B" x="241.5" y="41.5" width="44" height="7"/>
<circle class="B" cx="31.5" cy="45" r="5"/><use href="#pB" x="1.5"/><circle class="B" cx="241.5" cy="45" r="5"/>
<circle class="B" cx="301.5" cy="45" r="5"/><circle class="B" cx="331.5" cy="45" r="5"/><circle class="B" cx="361.5" cy="45" r="5"/><circle class="Y" cx="391.5" cy="30" r="5"/><circle class="O" cx="406.5" cy="60" r="5"/><circle class="O" cx="421.5" cy="60" r="5"/><circle class="O" cx="436.5" cy="60" r="5"/><circle class="Y" cx="451.5" cy="30" r="5"/><circle class="B" cx="461.5" cy="45" r="5"/><circle class="B" cx="481.5" cy="45" r="5"/>
<rect class="Y" x="721.5" y="26.5" width="44" height="7"/>
<use href="#pY8" x="511.5"/>
<circle class="Y" cx="781.5" cy="30" r="5"/><circle class="Y" cx="811.5" cy="30" r="5"/><circle class="Y" cx="841.5" cy="30" r="5"/><circle class="Y" cx="871.5" cy="30" r="5"/><circle class="Y" cx="901.5" cy="30" r="5"/><circle class="Y" cx="931.5" cy="30" r="5"/><circle class="Y" cx="961.5" cy="30" r="5"/>
<rect class="ra" x="151.5" y="-0.5" width="2" height="61"/>
<rect class="ba" x="153.5" y="-0.5" width="838" height="61"/>
<text class="tp" y="-20"><tspan x="31">♩=120</tspan><tspan x="271">♩=116</tspan><tspan x="751">♩=123</tspan></text>
<text class="mn" y="-8"><tspan x="31">129</tspan><tspan x="271">130</tspan><tspan x="511">131</tspan><tspan x="751">132</tspan></text>
<text class="s1" y="75.5"><tspan x="270.5">206</tspan><tspan x="510.5">253</tspan><tspan x="750.5">206</tspan><tspan x="990.5">178</tspan></text>
<text class="s2" y="89"><tspan x="270.5">134625</tspan><tspan x="510.5">137661</tspan><tspan x="750.5">140133</tspan><tspan x="990.5">142269</tspan></text>
<text class="s3" y="101.5"><tspan x="270.5">48.60%</tspan><tspan x="510.5">36.10%</tspan><tspan x="750.5">23.60%</tspan><tspan x="990.5">11.10%</tspan></text>
</g>

<g id="r34" transform="translate(0,4858.5)">
<use href="#staff"/>
<rect class="Y" x="251.5" y="26.5" width="34" height="7"/>
<circle class="Y" cx="31.5" cy="30" r="5"/><circle class="Y" cx="61.5" cy="30" r="5"/><circle class="G" cx="91.5" cy="0" r="5"/><circle class="G" cx="121.5" cy="0" r="5"/><circle class="Y" cx="151.5" cy="30" r="5"/><circle class="G" cx="181.5" cy="0" r="5"/><circle class="G" cx="211.5" cy="0" r="5"/><circle class="R" cx="241.5" cy="15" r="5"/><circle class="Y" cx="251.5" cy="30" r="5"/>
<circle class="Y" cx="301.5" cy="30" r="5"/><circle class="Y" cx="331.5" cy="30" r="5"/><circle class="Y" cx="361.5" cy="30" r="5"/><circle class="Y" cx="391.5" cy="30" r="5"/><circle class="Y" cx="421.5" cy="30" r="5"/><circle class="Y" cx="451.5" cy="30" r="5"/><circle class="Y" cx="481.5" cy="30" r="5"/>
<use href="#pR8" x="511.5"/><use href="#pR8" x="751.5"/>
<rect class="ba" x="31.5" y="-0.5" width="210" height="61"/>
<rect class="ra" x="241.5" y="-0.5" width="6.5" height="61"/>
<text class="tp" y="-20"><tspan x="31">♩=119</tspan><tspan x="271">♩=115</tspan><tspan x="511">♩=120</tspan></text>
<text class="mn" y="-8"><tspan x="31">133</tspan><tspan x="271">134</tspan><tspan x="511">135</tspan><tspan x="751">136</tspan></text>
<text class="s1" y="75.5"><tspan x="270.5">229</tspan><tspan x="510.5">179</tspan><tspan x="750.5">200</tspan><tspan x="990.5">200</tspan></text>
<text class="s2" y="89"><tspan x="270.5">144993</tspan><tspan x="510.5">146067</tspan><tspan x="750.5">147267</tspan><tspan x="990.5">148467</tspan></text>
<text class="s3" y="101.5"><tspan x="270.5">0.00%</tspan><tspan x="510.5">0.00%</tspan><tspan x="750.5">0.00%</tspan><tspan x="990.5">0.00%</tspan></text>
</g>

<g id="r35" transform="translate(0,4999.5)">
<use href="#staff"/>
<use href="#pY8" x="31.5"/><use href="#pY8" x="271.5"/>
<rect class="B" x="519" y="41.5" width="397" height="7"/>
<circle class="Y" cx="511.5" cy="30" r="5"/><circle class="B" cx="519" cy="45" r="5"/>
<circle class="B" cx="931.5" cy="45" r="5"/><circle class="R" cx="961.5" cy="15" r="5"/>
<text class="tp" y="-20"><tspan x="31">♩=118</tspan><tspan x="271">♩=116</tspan><tspan x="511">♩=117</tspan></text>
<text class="mn" y="-8"><tspan x="31">137</tspan><tspan x="271">138</tspan><tspan x="511">139</tspan><tspan x="751">140</tspan></text>
<text class="s1" y="75.5"><tspan x="270.5">200</tspan><tspan x="510.5">200</tspan><tspan x="750.5">96</tspan><tspan x="990.5">84</tspan></text>
<text class="s2" y="89"><tspan x="270.5">149667</tspan><tspan x="510.5">150867</tspan><tspan x="750.5">151443</tspan><tspan x="990.5">151947</tspan></text>
<text class="s3" y="101.5"><tspan x="270.5">0.00%</tspan><tspan x="510.5">0.00%</tspan><tspan x="750.5">0.00%</tspan><tspan x="990.5">0.00%</tspan></text>
</g>

<g id="r36" transform="translate(0,5140.5)">
<use href="#staff"/>
<rect class="G" x="31.5" y="-3.5" width="465" height="7"/><circle class="G" cx="31.5" cy="0" r="5"/>
<rect class="G" x="511.5" y="-3.5" width="464" height="7"/><circle class="G" cx="511.5" cy="0" r="5"/>
<text class="tp" y="-20"><tspan x="31">♩=121</tspan><tspan x="271">♩=120</tspan><tspan x="511">♩=120</tspan></text>
<text class="mn" y="-8"><tspan x="31">141</tspan><tspan x="271">142</tspan><tspan x="511">143</tspan><tspan x="751">144</tspan></text>
<text class="s1" y="75.5"><tspan x="270.5">73</tspan><tspan x="510.5">45</tspan><tspan x="750.5">73</tspan><tspan x="990.5">45</tspan></text>
<text class="s2" y="89"><tspan x="270.5">152385</tspan><tspan x="510.5">152655</tspan><tspan x="750.5">153093</tspan><tspan x="990.5">153363</tspan></text>
<text class="s3" y="101.5"><tspan x="270.5">0.00%</tspan><tspan x="510.5">0.00%</tspan><tspan x="750.5">0.00%</tspan><tspan x="990.5">0.00%</tspan></text>
</g>

<g id="r37" transform="translate(0,5281.5)">
<use href="#staff"/>
<rect class="G" x="31.5" y="-3.5" width="405" height="7"/><circle class="G" cx="31.5" cy="0" r="5"/>
<circle class="G" cx="451.5" cy="0" r="5"/><circle class="B" cx="481.5" cy="45" r="5"/>
<rect class="B" x="511.5" y="41.5" width="298" height="7"/><circle class="B" cx="511.5" cy="45" r="5"/>
<text class="tp" y="-20"><tspan x="271">♩=116</tspan></text>
<text class="mn" y="-8"><tspan x="31">145</tspan><tspan x="271">146</tspan><tspan x="511">147</tspan><tspan x="751">148</tspan></text>
<text class="s1" y="75.5"><tspan x="270.5">73</tspan><tspan x="510.5">83</tspan><tspan x="750.5">73</tspan><tspan x="990.5">12</tspan></text>
<text class="s2" y="89"><tspan x="270.5">153801</tspan><tspan x="510.5">154299</tspan><tspan x="750.5">154737</tspan><tspan x="990.5">154809</tspan></text>
<text class="s3" y="101.5"><tspan x="270.5">0.00%</tspan><tspan x="510.5">0.00%</tspan><tspan x="750.5">0.00%</tspan><tspan x="990.5">0.00%</tspan></text>
</g>
</svg>
